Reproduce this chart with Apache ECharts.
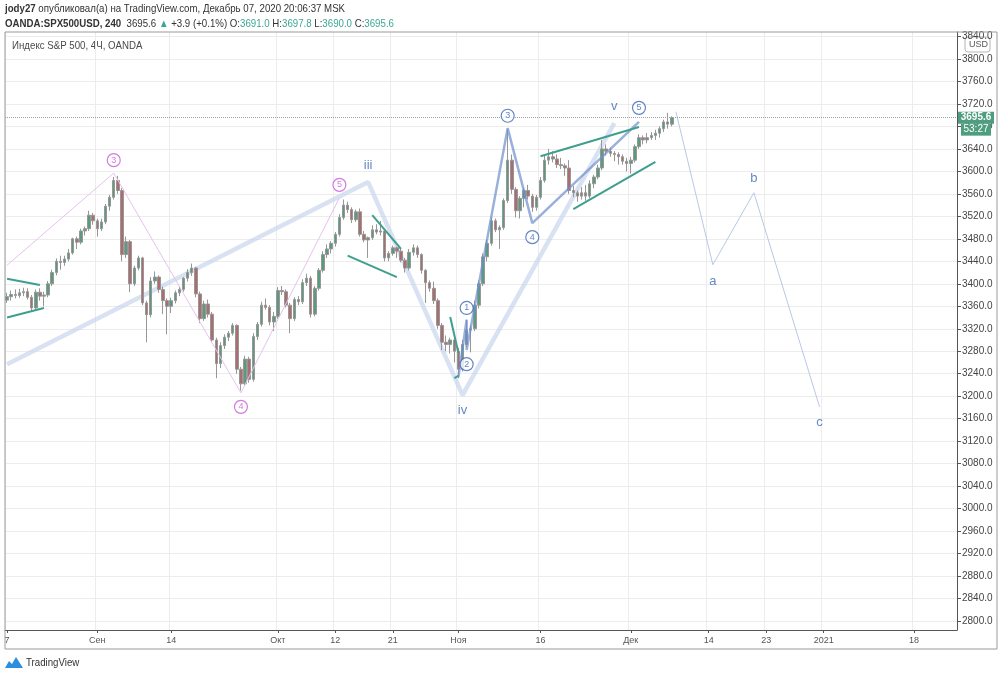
<!DOCTYPE html>
<html>
<head>
<meta charset="utf-8">
<title>SPX500USD 4H</title>
<script src="https://cdn.jsdelivr.net/npm/echarts@6/dist/echarts.min.js"></script>
<style>
  html, body { margin: 0; padding: 0; background: #fff; }
  #chart { width: 1000px; height: 677px; }
</style>
</head>
<body>
<div id="chart"></div>
<script>
// half-day candles, rows are [open, close, low, high]
const augCandles = [
  [3371, 3377, 3366, 3384], [3377, 3381, 3370, 3388], [3381, 3379, 3374, 3390], [3379, 3384, 3375, 3391],
  [3384, 3386, 3378, 3393], [3386, 3376, 3372, 3392], [3376, 3357, 3350, 3380], [3357, 3385, 3355, 3390],
  [3385, 3378, 3370, 3392], [3378, 3380, 3360, 3386], [3380, 3400, 3376, 3405], [3400, 3420, 3396, 3425],
  [3420, 3440, 3415, 3445], [3440, 3438, 3425, 3450], [3438, 3444, 3432, 3450], [3444, 3455, 3440, 3462],
  [3455, 3480, 3452, 3482], [3480, 3474, 3462, 3484], [3474, 3494, 3470, 3498], [3494, 3498, 3486, 3502],
  [3498, 3522, 3494, 3530], [3522, 3512, 3505, 3526]
];
const sepCandles = [
  [3512, 3498, 3484, 3516], [3498, 3510, 3494, 3516], [3510, 3538, 3506, 3542], [3538, 3554, 3530, 3558],
  [3554, 3584, 3550, 3590], [3584, 3566, 3560, 3592], [3566, 3452, 3440, 3570], [3452, 3475, 3446, 3484],
  [3475, 3400, 3385, 3478], [3400, 3428, 3396, 3432], [3428, 3446, 3424, 3450], [3446, 3366, 3362, 3448],
  [3366, 3345, 3296, 3370], [3345, 3405, 3340, 3412], [3405, 3412, 3400, 3422], [3412, 3390, 3384, 3415],
  [3390, 3370, 3346, 3395], [3370, 3360, 3310, 3374], [3360, 3370, 3348, 3375], [3370, 3384, 3365, 3388],
  [3384, 3390, 3378, 3396], [3390, 3410, 3386, 3412], [3410, 3420, 3404, 3426], [3420, 3428, 3414, 3436],
  [3428, 3382, 3376, 3430], [3382, 3338, 3330, 3386], [3338, 3364, 3334, 3370], [3364, 3346, 3340, 3372],
  [3346, 3300, 3296, 3350], [3300, 3258, 3232, 3304], [3258, 3290, 3250, 3296], [3290, 3305, 3284, 3310],
  [3305, 3312, 3298, 3316], [3312, 3326, 3308, 3330], [3326, 3248, 3240, 3328], [3248, 3222, 3210, 3252],
  [3222, 3266, 3218, 3272], [3266, 3230, 3224, 3270], [3230, 3306, 3226, 3312], [3306, 3328, 3300, 3332],
  [3328, 3362, 3324, 3368], [3362, 3358, 3354, 3374], [3358, 3332, 3326, 3362], [3332, 3342, 3316, 3350]
];
const octCandles = [
  [3342, 3388, 3338, 3394], [3388, 3386, 3380, 3396], [3386, 3362, 3358, 3390], [3362, 3338, 3312, 3366],
  [3338, 3372, 3334, 3376], [3372, 3368, 3362, 3378], [3368, 3402, 3364, 3408], [3402, 3410, 3396, 3418],
  [3410, 3346, 3340, 3414], [3346, 3392, 3342, 3396], [3392, 3424, 3388, 3428], [3424, 3452, 3420, 3458],
  [3452, 3462, 3446, 3470], [3462, 3472, 3454, 3476], [3472, 3488, 3466, 3492], [3488, 3518, 3484, 3524],
  [3518, 3540, 3514, 3550], [3540, 3532, 3526, 3546], [3532, 3514, 3508, 3536], [3514, 3528, 3510, 3532],
  [3528, 3488, 3484, 3534], [3488, 3478, 3474, 3494], [3478, 3482, 3446, 3484], [3482, 3496, 3478, 3504],
  [3496, 3492, 3488, 3506], [3492, 3494, 3486, 3512], [3494, 3446, 3440, 3498], [3446, 3454, 3440, 3458],
  [3454, 3464, 3450, 3468], [3464, 3458, 3446, 3466], [3458, 3442, 3438, 3462], [3442, 3428, 3420, 3446],
  [3428, 3456, 3424, 3462], [3456, 3464, 3450, 3470], [3464, 3452, 3446, 3468], [3452, 3424, 3418, 3454],
  [3424, 3402, 3366, 3426], [3402, 3392, 3386, 3406], [3392, 3370, 3364, 3404], [3370, 3326, 3320, 3374],
  [3326, 3296, 3282, 3330], [3296, 3292, 3280, 3308], [3292, 3300, 3276, 3304], [3300, 3280, 3260, 3302]
];
const novCandles = [
  [3280, 3248, 3232, 3286], [3248, 3292, 3244, 3300], [3292, 3318, 3288, 3336], [3318, 3320, 3278, 3326],
  [3320, 3362, 3316, 3370], [3362, 3400, 3356, 3406], [3400, 3448, 3396, 3454], [3448, 3472, 3440, 3478],
  [3472, 3512, 3468, 3518], [3512, 3496, 3492, 3516], [3496, 3500, 3462, 3504], [3500, 3548, 3496, 3552],
  [3548, 3620, 3544, 3675], [3620, 3568, 3560, 3630], [3568, 3530, 3518, 3572], [3530, 3552, 3516, 3556],
  [3552, 3566, 3536, 3570], [3566, 3556, 3550, 3576], [3556, 3536, 3528, 3560], [3536, 3554, 3530, 3558],
  [3554, 3584, 3550, 3590], [3584, 3620, 3580, 3628], [3620, 3626, 3612, 3640], [3626, 3622, 3616, 3636],
  [3622, 3612, 3606, 3630], [3612, 3610, 3604, 3624], [3610, 3606, 3592, 3614], [3606, 3566, 3560, 3620],
  [3566, 3562, 3554, 3574], [3562, 3556, 3546, 3566], [3556, 3562, 3550, 3572], [3562, 3556, 3548, 3576],
  [3556, 3578, 3552, 3584], [3578, 3590, 3570, 3594], [3590, 3606, 3586, 3612], [3606, 3640, 3602, 3656],
  [3640, 3636, 3628, 3648], [3636, 3632, 3626, 3642], [3632, 3630, 3618, 3636], [3630, 3626, 3612, 3634],
  [3626, 3618, 3612, 3630], [3618, 3614, 3600, 3624]
];
const decCandles = [
  [3614, 3620, 3596, 3626], [3620, 3644, 3616, 3648], [3644, 3660, 3640, 3666], [3660, 3656, 3648, 3664],
  [3656, 3660, 3650, 3668], [3660, 3664, 3656, 3670], [3664, 3668, 3656, 3674], [3668, 3676, 3660, 3680],
  [3676, 3688, 3670, 3692], [3688, 3684, 3676, 3704], [3684, 3695.6, 3680, 3698]
];
const lastPrice = 3695.6;

// axis: one slot per half trading day, empty slots on the right are future time
const slotCount = 232;
const xTickLabels = {
  0: '7', 22: 'Сен', 40: '14', 66: 'Окт', 80: '12', 94: '21', 110: 'Ноя',
  130: '16', 152: 'Дек', 171: '14', 185: '23', 199: '2021', 221: '18'
};
const yTicks = [
  2800, 2840, 2880, 2920, 2960, 3000, 3040, 3080, 3120, 3160, 3200, 3240, 3280, 3320,
  3360, 3400, 3440, 3480, 3520, 3560, 3600, 3640, 3680, 3720, 3760, 3800, 3840
];

// drawings, points are [slot, price]
const pinkWave = [[0, 3433], [26.3, 3597], [57, 3206], [80.5, 3553]];
const bigWave = [[0, 3257], [88, 3581], [110.5, 3202], [148, 3686]];
const smallWave = [[110, 3234], [111.5, 3336], [112.2, 3282], [121.7, 3677], [127.8, 3508], [153.9, 3688]];
const futureWave = [[163, 3706], [172, 3434], [182, 3562], [197.6, 3181]];
const trendLines = [
  [[0, 3409], [7.8, 3398]],
  [[0, 3340], [9, 3357]],
  [[89.3, 3522], [96.3, 3462]],
  [[82.7, 3450], [94.9, 3412]],
  [[107.8, 3341], [110, 3277]],
  [[109, 3232], [110, 3236]],
  [[129.5, 3627], [153.9, 3679]],
  [[138.3, 3533], [158, 3617]]
];
const pinkMarks = [[26.3, 3620, '3'], [57, 3181, '4'], [80.5, 3576, '5']];
const blueMarks = [[111.5, 3357, '1'], [112.2, 3257, '2'], [121.7, 3699, '3'], [127.6, 3483, '4'], [153.9, 3713, '5']];
const waveLetters = [
  [88.3, 3610, 'iii'], [110.5, 3174, 'iv'], [147.8, 3716, 'v'],
  [172.4, 3405, 'a'], [182.2, 3587, 'b'], [197.6, 3154, 'c']
];

const candles = augCandles.concat(sepCandles, octCandles, novCandles, decCandles);
const slots = [];
for (let i = 0; i < slotCount; i++) slots.push(String(i));
const showSlot = (i) => xTickLabels[i] !== undefined;

const sans = '"Liberation Sans", Arial, sans-serif';
const teal = '#3ca596';

function lineSeries(points, color, width, z) {
  return {
    type: 'line', data: points, symbol: 'none', silent: true, z: z,
    lineStyle: { color: color, width: width }
  };
}

function circleMarks(marks, color) {
  return {
    type: 'scatter', data: marks, symbol: 'circle', symbolSize: 13, silent: true, z: 6,
    itemStyle: { color: '#fff', borderColor: color, borderWidth: 1.2 },
    label: {
      show: true, position: 'inside', formatter: (p) => p.data[2],
      color: color, fontSize: 9, fontFamily: sans
    }
  };
}

const series = [
  lineSeries(bigWave, 'rgba(200,213,236,0.7)', 4.5, 1),
  {
    type: 'candlestick',
    data: candles,
    barWidth: 3,
    z: 2,
    itemStyle: {
      color: '#5a9a7d', color0: '#ab6d6d',
      borderColor: '#979797', borderColor0: '#979797', borderWidth: 1
    },
    markLine: {
      symbol: 'none', silent: true, animation: false,
      lineStyle: { type: 'dotted', color: '#9aa1a8', width: 1 },
      label: {
        show: true, position: 'end', distance: 1,
        formatter: '{e|}\n{p|3695.6}\n{t|53:27}',
        rich: {
          e: { height: 12 },
          p: { backgroundColor: '#4e9d7e', color: '#fff', fontSize: 10, fontWeight: 'bold',
               fontFamily: sans, width: 32, height: 12, align: 'center', padding: [0, 2] },
          t: { backgroundColor: '#4e9d7e', color: '#fff', fontSize: 10,
               fontFamily: sans, width: 26, height: 12, align: 'center', padding: [0, 2] }
        }
      },
      data: [{ yAxis: lastPrice }]
    }
  },
  lineSeries(pinkWave, '#e6c2ee', 1, 3),
  lineSeries(futureWave, '#b9c8e6', 1, 3),
  lineSeries(smallWave, 'rgba(110,142,205,0.7)', 2.5, 4)
];
trendLines.forEach((t) => series.push(lineSeries(t, '#3f9f8e', 2, 5)));
series.push(circleMarks(pinkMarks, '#c65bd6'));
series.push(circleMarks(blueMarks, '#3b67b8'));
series.push({
  type: 'scatter', data: waveLetters, symbolSize: 1, silent: true, z: 6,
  itemStyle: { color: 'rgba(0,0,0,0)' },
  label: {
    show: true, position: 'inside', formatter: (p) => p.data[2],
    color: '#3d6ab5', fontSize: 13, fontFamily: sans
  }
});

const option = {
  animation: false,
  backgroundColor: '#fff',
  grid: { left: 5, right: 43, top: 32, bottom: 47 },
  xAxis: {
    type: 'category',
    data: slots,
    boundaryGap: true,
    axisLine: { show: true, lineStyle: { color: '#555' } },
    axisTick: { show: true, alignWithLabel: true, interval: showSlot, length: 3, lineStyle: { color: '#555' } },
    axisLabel: {
      interval: showSlot, formatter: (v, i) => xTickLabels[i],
      color: '#555', fontSize: 9, fontFamily: sans, margin: 6
    },
    splitLine: { show: true, interval: showSlot, lineStyle: { color: '#ececec' } }
  },
  yAxis: {
    type: 'value',
    position: 'right',
    min: 2784,
    max: 3848,
    axisLine: { show: true, lineStyle: { color: '#555' } },
    axisTick: { show: true, customValues: yTicks, length: 4, lineStyle: { color: '#555' } },
    axisLabel: {
      customValues: yTicks, formatter: (v) => v.toFixed(1),
      color: '#444', fontSize: 10, fontFamily: sans, margin: 5
    },
    splitLine: { show: true, lineStyle: { color: '#ececec' } }
  },
  series: series,
  graphic: [
    {
      // header, squeezed a little to match the narrow snapshot font
      type: 'group', x: 5, y: 3, scaleX: 0.88, z: 12,
      children: [
        {
          type: 'text', x: 0, y: 0,
          style: {
            text: '{b|jody27} опубликовал(а) на TradingView.com, Декабрь 07, 2020 20:06:37 MSK',
            font: '11px ' + sans, fill: '#333',
            rich: { b: { font: 'bold 11px ' + sans, fill: '#333' } }
          }
        },
        {
          type: 'text', x: 0, y: 15,
          style: {
            text: '{b|OANDA:SPX500USD, 240}  3695.6 {g|▲} +3.9 (+0.1%) O:{g|3691.0} H:{g|3697.8} L:{g|3690.0} C:{g|3695.6}',
            font: '11px ' + sans, fill: '#333',
            rich: {
              b: { font: 'bold 11px ' + sans, fill: '#333' },
              g: { font: '11px ' + sans, fill: teal }
            }
          }
        },
        {
          type: 'text', x: 8, y: 37,
          style: { text: 'Индекс S&P 500, 4Ч, OANDA', font: '11px ' + sans, fill: '#4a4a4a' }
        }
      ]
    },
    {
      type: 'rect', x: 5, y: 32, z: 10, silent: true,
      shape: { width: 992, height: 617 },
      style: { fill: 'none', stroke: '#9a9a9a', lineWidth: 1 }
    },
    {
      type: 'group', x: 965, y: 37, z: 12,
      children: [
        { type: 'rect', shape: { width: 25, height: 15, r: 3 }, style: { fill: '#fff', stroke: '#b5b5b5' } },
        { type: 'text', x: 4, y: 3, style: { text: 'USD', fill: '#555', font: '9px ' + sans } }
      ]
    },
    {
      type: 'group', x: 5, y: 656, z: 12,
      children: [
        { type: 'polygon', shape: { points: [[0, 12], [4, 5], [7, 8], [11, 1], [18, 12]] }, style: { fill: '#2b8ee0' } },
        {
          type: 'group', x: 21, y: 1, scaleX: 0.88,
          children: [{ type: 'text', style: { text: 'TradingView', fill: '#333', font: '11px ' + sans } }]
        }
      ]
    }
  ]
};

const chart = echarts.init(document.getElementById('chart'));
chart.setOption(option);
</script>
</body>
</html>
